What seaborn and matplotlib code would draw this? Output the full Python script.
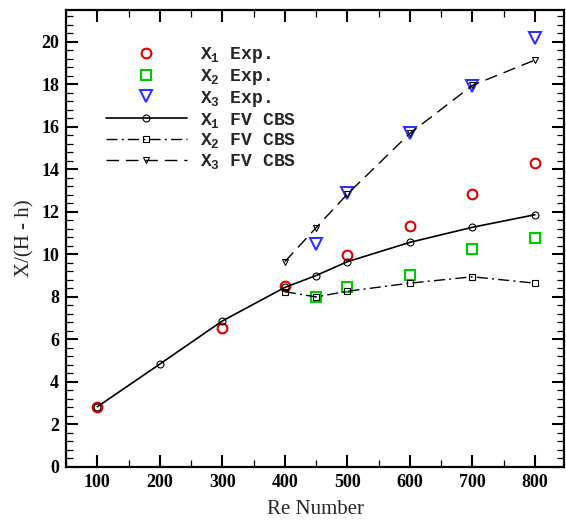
import matplotlib
matplotlib.use("Agg")
import matplotlib.pyplot as plt
from matplotlib.ticker import MultipleLocator
import seaborn as sns

# ---- data ----
re_fv1 = [100, 200, 300, 400, 450, 500, 600, 700, 800]
x1_fv = [2.82, 4.83, 6.86, 8.44, 9.00, 9.65, 10.56, 11.27, 11.86]
re_fv23 = [400, 450, 500, 600, 700, 800]
x2_fv = [8.24, 7.99, 8.26, 8.64, 8.94, 8.64]
x3_fv = [9.65, 11.25, 12.83, 15.69, 17.95, 19.14]

re_exp1 = [100, 300, 400, 500, 600, 700, 800]
x1_exp = [2.82, 6.54, 8.50, 9.96, 11.33, 12.82, 14.28]
re_exp23 = [450, 500, 600, 700, 800]
x2_exp = [8.00, 8.44, 9.04, 10.23, 10.76]
x3_exp = [10.46, 12.90, 15.70, 17.90, 20.16]

labels_exp = ["X$_1$ Exp.", "X$_2$ Exp.", "X$_3$ Exp."]
labels_fv = ["X$_1$ FV CBS", "X$_2$ FV CBS", "X$_3$ FV CBS"]

sns.set_theme(style="ticks")
plt.rcParams["font.family"] = ["Liberation Serif", "DejaVu Serif"]
plt.rcParams["mathtext.fontset"] = "custom"
plt.rcParams["mathtext.rm"] = "Liberation Mono:bold"
plt.rcParams["mathtext.it"] = "Liberation Mono:bold"
plt.rcParams["mathtext.bf"] = "Liberation Mono:bold"

fig = plt.figure(figsize=(5.66, 5.23), dpi=100)
ax = fig.add_axes([0.1166, 0.1076, 0.8804, 0.8734])

red, green, blue = "#dd0000", "#00c800", "#3030ff"

# experimental markers
sns.lineplot(x=re_exp1, y=x1_exp, ax=ax, linestyle="none", marker="o", ms=7,
             mfc="none", mec=red, mew=1.5, color=red, label=labels_exp[0])
sns.lineplot(x=re_exp23, y=x2_exp, ax=ax, linestyle="none", marker="s", ms=7.5,
             mfc="none", mec=green, mew=1.5, color=green, label=labels_exp[1])
sns.lineplot(x=re_exp23, y=x3_exp, ax=ax, linestyle="none", marker="v", ms=9,
             mfc="none", mec=blue, mew=1.5, color=blue, label=labels_exp[2])

# simulation lines
sns.lineplot(x=re_fv1, y=x1_fv, ax=ax, color="black", lw=1.2, marker="o", ms=5,
             mfc="none", mec="black", mew=0.8, label=labels_fv[0])
sns.lineplot(x=re_fv23, y=x2_fv, ax=ax, color="black", lw=1.0, marker="s", ms=4,
             mfc="none", mec="black", mew=0.8, label=labels_fv[1],
             dashes=False, linestyle=(0, (8, 3, 1.5, 3)))
sns.lineplot(x=re_fv23, y=x3_fv, ax=ax, color="black", lw=1.0, marker="v", ms=4.5,
             mfc="none", mec="black", mew=0.8, label=labels_fv[2],
             dashes=False, linestyle=(0, (9, 5)))

ax.set_xlim(50, 847)
ax.set_ylim(0, 21.5)
ax.xaxis.set_major_locator(MultipleLocator(100))
ax.xaxis.set_minor_locator(MultipleLocator(50))
ax.yaxis.set_major_locator(MultipleLocator(2))
ax.yaxis.set_minor_locator(MultipleLocator(0.4))
ax.tick_params(which="both", direction="in", top=True, right=True, colors="black")
ax.tick_params(which="major", length=8.6, width=1.5, labelsize=13, pad=5)
ax.tick_params(which="minor", length=5, width=0.9)
for lab in ax.get_xticklabels() + ax.get_yticklabels():
    lab.set_fontweight("bold")
for s in ax.spines.values():
    s.set_linewidth(1.6)
    s.set_color("black")

ax.set_xlabel("Re Number", fontsize=15, labelpad=7)
ax.set_ylabel("X/(H - h)", fontsize=15, labelpad=5)

handles, labs = ax.get_legend_handles_labels()
leg = ax.legend(handles, labs, loc="upper left", bbox_to_anchor=(0.08, 0.923),
                frameon=False, handlelength=4.5, handletextpad=0.7,
                labelspacing=0.1, numpoints=1, borderpad=0, borderaxespad=0,
                prop={"family": "Liberation Mono", "weight": "bold", "size": 13})

fig.savefig("out.png", dpi=100)
